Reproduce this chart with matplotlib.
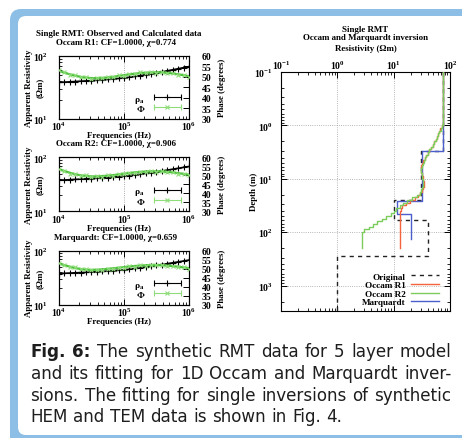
import matplotlib
matplotlib.use('Agg')
import matplotlib.pyplot as plt
from matplotlib.patches import FancyBboxPatch
from matplotlib.transforms import IdentityTransform
from matplotlib.ticker import MultipleLocator, NullFormatter, LogLocator
from matplotlib.lines import Line2D
from matplotlib.collections import LineCollection
from matplotlib.container import ErrorbarContainer
from matplotlib.legend_handler import HandlerErrorbar

W, H = 462, 439
plt.rcParams['font.family'] = ['Liberation Serif', 'DejaVu Serif']
plt.rcParams['font.weight'] = 'bold'
plt.rcParams['mathtext.fontset'] = 'custom'
plt.rcParams['mathtext.rm'] = 'Liberation Serif:bold'
plt.rcParams['mathtext.it'] = 'Liberation Serif:italic:bold'
plt.rcParams['mathtext.bf'] = 'Liberation Serif:bold'
plt.rcParams['axes.linewidth'] = 0.8

# ---------------- data: RMT sounding ----------------
freq = [1.0e4, 1.21e4, 1.47e4, 1.78e4, 2.15e4, 2.61e4, 3.16e4, 3.83e4, 4.64e4,
        5.62e4, 6.81e4, 8.25e4, 1.0e5, 1.21e5, 1.47e5, 1.78e5, 2.15e5, 2.61e5,
        3.16e5, 3.83e5, 4.64e5, 5.62e5, 6.81e5, 8.25e5, 1.0e6]
rho_obs = [37.8, 38.3, 38.7, 39.0, 39.5, 40.0, 40.3, 40.9, 41.5, 42.1, 42.9, 43.8,
           44.6, 45.7, 47.2, 48.5, 50.2, 52.1, 53.8, 55.7, 58.0, 60.1, 62.7, 65.0, 67.8]
phase_obs = [53.5, 52.3, 51.0, 50.9, 49.7, 49.9, 49.1, 49.6, 49.3, 50.0, 49.8, 50.7,
             50.6, 51.5, 51.3, 52.1, 51.8, 52.4, 52.0, 52.3, 51.7, 51.8, 51.0, 51.0, 50.1]
rho_calc_R1 = [37.8, 38.2, 38.6, 39.1, 39.5, 39.9, 40.4, 40.9, 41.5, 42.2, 42.9, 43.7,
               44.7, 45.8, 47.1, 48.6, 50.2, 52.0, 53.9, 55.9, 58.0, 60.2, 62.6, 65.1, 67.7]
phase_calc_R1 = [52.8, 52.0, 51.2, 50.5, 50.0, 49.6, 49.4, 49.4, 49.5, 49.7, 50.0, 50.4,
                 50.8, 51.2, 51.5, 51.8, 52.0, 52.1, 52.2, 52.1, 51.9, 51.6, 51.2, 50.8, 50.3]
rho_calc_R2 = [37.6, 38.0, 38.5, 39.0, 39.4, 39.9, 40.4, 40.9, 41.5, 42.2, 42.9, 43.8,
               44.7, 45.8, 47.1, 48.6, 50.2, 52.0, 53.9, 55.9, 58.0, 60.2, 62.6, 65.1, 67.6]
phase_calc_R2 = [53.4, 52.4, 51.4, 50.6, 50.0, 49.6, 49.4, 49.4, 49.6, 49.8, 50.1, 50.5,
                 50.9, 51.3, 51.6, 51.9, 52.1, 52.2, 52.2, 52.1, 51.9, 51.6, 51.2, 50.8, 50.3]
rho_calc_M = [37.9, 38.3, 38.7, 39.1, 39.5, 40.0, 40.4, 40.9, 41.5, 42.1, 42.9, 43.7,
              44.6, 45.7, 47.1, 48.6, 50.2, 52.0, 53.9, 55.9, 58.0, 60.2, 62.6, 65.0, 67.7]
phase_calc_M = [53.0, 52.1, 51.2, 50.4, 49.9, 49.5, 49.4, 49.5, 49.7, 50.0, 50.3, 50.6,
                51.0, 51.3, 51.6, 51.8, 52.0, 52.1, 52.1, 52.0, 51.8, 51.5, 51.2, 50.8, 50.4]

panel_titles = ['Occam R1: CF=1.0000, χ=0.774',
                'Occam R2: CF=1.0000, χ=0.906',
                'Marquardt: CF=1.0000, χ=0.659']

# ---------------- data: 1D models ----------------
orig_tops = [0.1, 3.0, 25.0, 60.0, 280.0]
orig_rho = [75.0, 30.0, 10.0, 40.0, 1.0]
orig_bottom = 5000.0

marq_tops = [0.1, 3.0, 26.0, 46.0]
marq_rho = [75.5, 31.5, 11.4, 20.0]
marq_bottom = 135.0

occam_tops = [0.1, 1.0, 1.12, 1.26, 1.41, 1.58, 1.78, 2.0, 2.24, 2.51, 2.82, 3.16,
              3.55, 3.98, 4.47, 5.01, 5.62, 6.31, 7.08, 7.94, 8.91, 10.0, 11.2, 12.6,
              14.1, 15.8, 17.8, 20.0, 22.4, 25.1, 28.2, 31.6, 35.5, 39.8, 44.7, 50.1,
              56.2, 63.1, 70.8, 79.4, 89.1, 100.0]
occam_R1 = [76.0, 72.0, 67.5, 64.5, 61.5, 59.0, 55.5, 52.5, 49.0, 46.0, 43.0, 40.5,
            38.0, 35.5, 33.5, 31.8, 30.6, 30.3, 30.8, 31.7, 32.8, 33.8, 34.6, 34.5,
            33.2, 31.3, 29.3, 26.8, 23.5, 19.8, 16.5, 14.2, 13.4, 13.1, 13.0, 13.0,
            13.0, 13.0, 13.0, 13.0, 13.0, 13.0]
occam_R2 = [76.0, 72.5, 68.0, 65.0, 62.0, 59.5, 56.0, 53.0, 49.5, 46.5, 43.0, 40.5,
            38.0, 35.8, 34.0, 32.6, 31.6, 31.1, 31.0, 31.3, 31.9, 32.5, 32.9, 32.8,
            32.2, 31.0, 29.0, 25.7, 21.5, 17.5, 14.5, 12.8, 11.0, 10.2, 8.8, 7.4,
            6.2, 5.1, 4.3, 3.6, 3.0, 2.7]
occam_bottom = 200.0

caption_lines = [
    ['Fig.', '6:', 'The', 'synthetic', 'RMT', 'data', 'for', '5', 'layer', 'model'],
    ['and', 'its', 'fitting', 'for', '1D', 'Occam', 'and', 'Marquardt', 'inver-'],
    ['sions.', 'The', 'fitting', 'for', 'single', 'inversions', 'of', 'synthetic'],
    ['HEM', 'and', 'TEM', 'data', 'is', 'shown', 'in', 'Fig.', '4.'],
]

# ---------------- figure ----------------
fig = plt.figure(figsize=(W / 100, H / 100), dpi=100)
fig.patch.set_facecolor('white')
BLUE = '#8dbfe6'
fig.add_artist(FancyBboxPatch((10, -40), 560, H - 10 + 40,
                              boxstyle='round,pad=0,rounding_size=11',
                              transform=IdentityTransform(), fc=BLUE, ec='none', zorder=-20))
fig.add_artist(FancyBboxPatch((18, 3), 560, H - 17 - 3,
                              boxstyle='round,pad=0,rounding_size=8',
                              transform=IdentityTransform(), fc='white', ec='none', zorder=-19))


def rect(x0, y0, x1, y1):
    return [x0 / W, 1 - y1 / H, (x1 - x0) / W, (y1 - y0) / H]


def ftext(x, y, s, **kw):
    return fig.text(x / W, 1 - y / H, s, **kw)


GREEN_LINE = '#4cc23a'
GREEN_MK = '#8fdc7a'
FS_T = 6.4
FS_TICK = 7


def eb_proxy(color, marker, ms):
    dl = Line2D([], [], color=color, marker=marker, ms=ms, ls='none', mew=0.8)
    cl = (Line2D([], [], color=color, marker='|', ms=4, mew=0.8),)
    bl = (LineCollection([], colors=color, linewidths=0.8),)
    return ErrorbarContainer((dl, cl, bl), has_xerr=True, has_yerr=False)


def left_panel(box, rho_calc, ph_calc, title):
    x0, y0, x1, y1 = box
    ax = fig.add_axes(rect(*box))
    ax.set_xscale('log')
    ax.set_yscale('log')
    ax.set_xlim(1e4, 1e6)
    ax.set_ylim(10, 100)
    ax.grid(True, which='major', axis='x', ls=':', lw=0.6, color='#909090')
    ax.plot(freq, rho_calc, color='black', lw=1.2, zorder=3)
    ax.plot(freq, rho_obs, ls='none', marker='+', color='black', ms=5, mew=0.8, zorder=4)
    ax.tick_params(which='both', direction='in', top=True, right=False,
                   labelsize=FS_TICK)
    ax.tick_params(which='major', length=4, width=0.7)
    ax.tick_params(which='minor', length=2, width=0.6)
    ax.tick_params(axis='y', pad=8)
    ax.tick_params(axis='x', pad=1)
    ax.xaxis.set_minor_formatter(NullFormatter())
    ax.yaxis.set_minor_formatter(NullFormatter())
    ax2 = ax.twinx()
    ax2.set_ylim(30, 60)
    ax2.plot(freq, ph_calc, color=GREEN_LINE, lw=1.6, zorder=2)
    ax2.plot(freq, phase_obs, ls='none', marker='x', color=GREEN_MK, ms=3.5, mew=0.8, zorder=3)
    ax2.yaxis.set_major_locator(MultipleLocator(5))
    ax2.tick_params(direction='in', length=4, width=0.7, labelsize=FS_TICK, pad=9)
    for t in ax2.get_yticklabels():
        t.set_horizontalalignment('left')
    p_rho = eb_proxy('black', '+', 5)
    p_phi = eb_proxy(GREEN_MK, 'x', 3.5)
    ax2.legend([p_rho, p_phi], ['ρ$_{\\rm a}$', 'Φ'],
               handler_map={ErrorbarContainer: HandlerErrorbar(xerr_size=1.4)},
               markerfirst=False, frameon=False, loc='lower right',
               bbox_to_anchor=(0.965, 2.0 / (y1 - y0)), fontsize=6.8, handlelength=2.8,
               labelspacing=-0.05, handletextpad=1.0, borderaxespad=0.0)
    # labels
    ftext(29, (y0 + y1) / 2, 'Apparent Resistivity', rotation=90, ha='center',
          va='center', fontsize=FS_T)
    ftext(40, (y0 + y1) / 2, '(Ωm)', rotation=90, ha='center', va='center', fontsize=FS_T)
    ftext(222, (y0 + y1) / 2, 'Phase (degrees)', rotation=90, ha='center',
          va='center', fontsize=FS_T)
    ftext(119, y1 + 16.5, 'Frequencies (Hz)', ha='center', va='center', fontsize=FS_T)
    ftext(116, y0 - 14, title, ha='center', va='center', fontsize=FS_T)
    return ax


left_panel((59, 57, 189, 119.5), rho_calc_R1, phase_calc_R1, panel_titles[0])
left_panel((59, 158.3, 189, 212.3), rho_calc_R2, phase_calc_R2, panel_titles[1])
left_panel((59, 252, 189, 305.5), rho_calc_M, phase_calc_M, panel_titles[2])
ftext(119, 33.5, 'Single RMT: Observed and Calculated data', ha='center', va='center',
      fontsize=FS_T)

# ---------------- right panel ----------------
axr = fig.add_axes(rect(281, 73, 450, 312))
axr.set_xscale('log')
axr.set_yscale('log')
axr.set_xlim(0.1, 100)
axr.set_ylim(3000, 0.1)
axr.grid(True, which='major', ls=':', lw=0.6, color='#a0a0a0')


def layer_path(tops, rhos, bottom):
    d = list(tops) + [bottom]
    xs, ys = [], []
    for i, r in enumerate(rhos):
        xs += [r, r]
        ys += [d[i], d[i + 1]]
    return xs, ys


xo, yo = layer_path(orig_tops, orig_rho, orig_bottom)
xm, ym = layer_path(marq_tops, marq_rho, marq_bottom)
x1_, y1_ = layer_path(occam_tops, occam_R1, occam_bottom)
x2_, y2_ = layer_path(occam_tops, occam_R2, occam_bottom)
l_o, = axr.plot(xo, yo, color='#222222', lw=1.0, ls=(0, (3, 3)), zorder=2)
l_1, = axr.plot(x1_, y1_, color='#f4643c', lw=1.0, zorder=4)
l_2, = axr.plot(x2_, y2_, color='#7ccc5c', lw=1.0, zorder=5)
l_m, = axr.plot(xm, ym, color='#4c5ecc', lw=1.0, zorder=3)

axr.xaxis.set_label_position('top')
axr.tick_params(which='both', direction='in', top=True, bottom=True, left=True,
                right=True, labeltop=True, labelbottom=False, labelsize=FS_TICK)
axr.tick_params(which='major', length=4, width=0.7)
axr.tick_params(which='minor', length=2, width=0.6)
axr.tick_params(axis='y', pad=6)
axr.tick_params(axis='x', pad=1)
axr.xaxis.set_minor_formatter(NullFormatter())
axr.yaxis.set_minor_formatter(NullFormatter())
axr.yaxis.set_minor_locator(LogLocator(subs=(2, 3, 4, 5, 6, 7, 8, 9), numticks=20))

axr.legend([l_o, l_1, l_2, l_m], ['Original', 'Occam R1', 'Occam R2', 'Marquardt'],
           loc='lower right', bbox_to_anchor=(0.955, 0.004), markerfirst=False,
           frameon=False, fontsize=6.6, handlelength=3.0, labelspacing=0.02,
           handletextpad=0.6, borderaxespad=0.0)

ftext(365.5, 29.5, 'Single RMT', ha='center', va='center', fontsize=FS_T)
ftext(365.5, 38, 'Occam and Marquardt inversion', ha='center', va='center', fontsize=FS_T)
ftext(365.5, 49.5, 'Resistivity (Ωm)', ha='center', va='center', fontsize=FS_T)
ftext(254, 192, 'Depth (m)', rotation=90, ha='center', va='center', fontsize=FS_T)

# ---------------- caption (justified) ----------------
CAP_FS = 12.1
CAP_COLOR = '#1e1e1e'
left_x, right_x = 30.5, 451.5
baselines = [357.5, 379.5, 401, 422]
renderer = fig.canvas.get_renderer()


def make_word(w, bold):
    return fig.text(0, 0, w, fontsize=CAP_FS, family='DejaVu Sans',
                    weight='bold' if bold else 'normal', color=CAP_COLOR, va='baseline')


tmp1 = make_word('n n', False)
tmp2 = make_word('nn', False)
space_w = (tmp1.get_window_extent(renderer).width - tmp2.get_window_extent(renderer).width)
tmp1.remove()
tmp2.remove()

for li, words in enumerate(caption_lines):
    arts = []
    for wi, w in enumerate(words):
        bold = (li == 0 and wi < 2)
        arts.append(make_word(w, bold))
    widths = [a.get_window_extent(renderer).width for a in arts]
    if li < len(caption_lines) - 1:
        gap = (right_x - left_x - sum(widths)) / (len(words) - 1)
    else:
        gap = space_w
    x = left_x
    for a, wdt in zip(arts, widths):
        a.set_position((x / W, 1 - baselines[li] / H))
        x += wdt + gap

fig.savefig('out.png', dpi=100)
